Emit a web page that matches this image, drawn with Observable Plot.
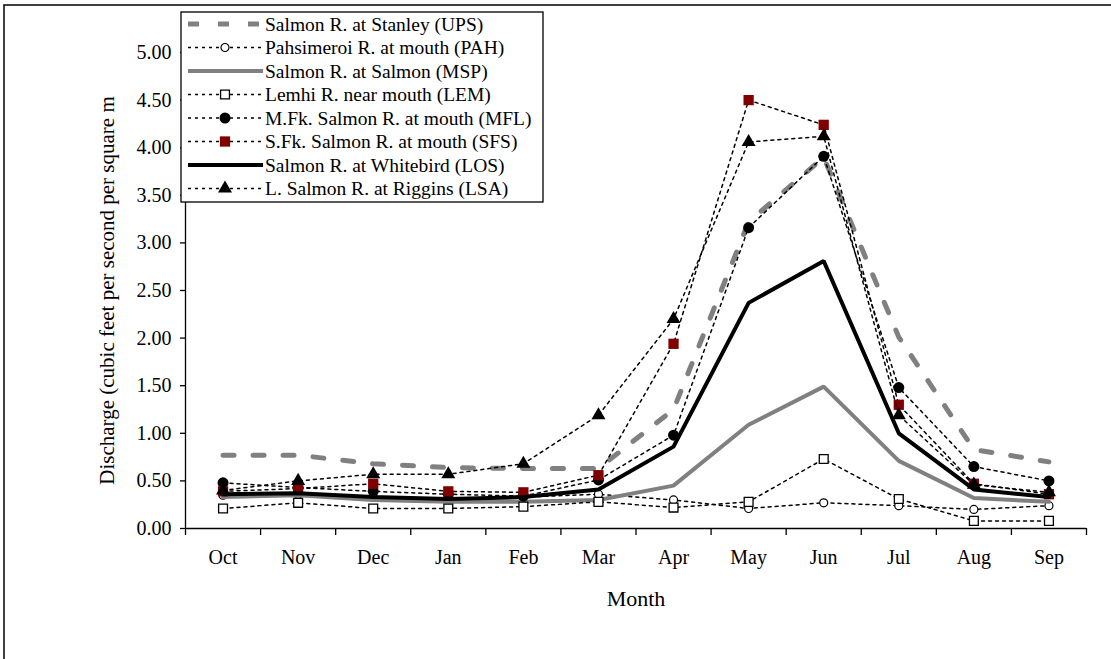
<!DOCTYPE html>
<html>
<head>
<meta charset="utf-8">
<script src="https://cdn.jsdelivr.net/npm/d3@7"></script>
<script src="https://cdn.jsdelivr.net/npm/@observablehq/plot@0.6"></script>
<style>
  body { margin: 0; background: #fff; }
  svg { display: block; }
  svg, svg text { font-family: "Liberation Serif", "Times New Roman", serif !important; }
</style>
</head>
<body>
<div id="chart"></div>
<script>
const months = ["Oct","Nov","Dec","Jan","Feb","Mar","Apr","May","Jun","Jul","Aug","Sep"];
const yTicks = [0, 0.5, 1, 1.5, 2, 2.5, 3, 3.5, 4, 4.5, 5];

const seriesNames = [
  "Salmon R. at Stanley (UPS)",
  "Pahsimeroi R. at mouth (PAH)",
  "Salmon R. at Salmon (MSP)",
  "Lemhi R. near mouth (LEM)",
  "M.Fk. Salmon R. at mouth (MFL)",
  "S.Fk. Salmon R. at mouth (SFS)",
  "Salmon R. at Whitebird (LOS)",
  "L. Salmon R. at Riggins (LSA)"
];
const UPS = [0.77, 0.77, 0.68, 0.64, 0.63, 0.63, 1.25, 3.22, 3.90, 2.01, 0.83, 0.70];
const PAH = [0.35, 0.36, 0.33, 0.32, 0.33, 0.36, 0.30, 0.21, 0.27, 0.24, 0.20, 0.24];
const MSP = [0.33, 0.35, 0.30, 0.28, 0.28, 0.30, 0.45, 1.09, 1.49, 0.71, 0.32, 0.28];
const LEM = [0.21, 0.27, 0.21, 0.21, 0.23, 0.28, 0.22, 0.28, 0.73, 0.31, 0.08, 0.08];
const MFL = [0.48, 0.43, 0.39, 0.36, 0.34, 0.51, 0.98, 3.16, 3.91, 1.48, 0.65, 0.50];
const SFS = [0.39, 0.42, 0.47, 0.39, 0.38, 0.56, 1.94, 4.50, 4.24, 1.30, 0.47, 0.36];
const LOS = [0.36, 0.37, 0.33, 0.31, 0.33, 0.41, 0.86, 2.37, 2.81, 1.00, 0.41, 0.33];
const LSA = [0.40, 0.50, 0.57, 0.57, 0.68, 1.19, 2.20, 4.06, 4.12, 1.19, 0.46, 0.38];

const yTitle = "Discharge (cubic feet per second per square m";
const xTitle = "Month";

const FONT = "'Liberation Serif', 'Times New Roman', serif";
const dotted = {stroke: "black", strokeWidth: 1.5, strokeDasharray: "3,4"};
const styles = [
  {values: UPS, line: {stroke: "#808080", strokeWidth: 5, strokeDasharray: "11,19"}, dot: null},
  {values: PAH, line: dotted, dot: {symbol: "circle", r: 4, fill: "white", stroke: "black", strokeWidth: 1.2}},
  {values: MSP, line: {stroke: "#808080", strokeWidth: 4}, dot: null},
  {values: LEM, line: dotted, dot: {symbol: "square", r: 5, fill: "white", stroke: "black", strokeWidth: 1.3}},
  {values: MFL, line: dotted, dot: {symbol: "circle", r: 5.5, fill: "black", stroke: "none"}},
  {values: SFS, line: dotted, dot: {symbol: "square", r: 5.8, fill: "#800000", stroke: "none"}},
  {values: LOS, line: {stroke: "black", strokeWidth: 4}, dot: null},
  {values: LSA, line: dotted, dot: {symbol: "triangle", r: 5.2, fill: "black", stroke: "none"}}
];

const idx = d3.range(months.length);
const marks = [];
marks.push(Plot.ruleY([0], {stroke: "black", strokeWidth: 1.3}));
marks.push(Plot.ruleX([-0.5], {stroke: "black", strokeWidth: 1.3}));
styles.forEach(s => {
  const data = idx.map(i => ({x: i, y: s.values[i]}));
  marks.push(Plot.line(data, {x: "x", y: "y", ...s.line, strokeLinejoin: "miter"}));
  if (s.dot) marks.push(Plot.dot(data, {x: "x", y: "y", ...s.dot}));
});
marks.push(Plot.axisY({ticks: yTicks, tickSize: 5, tickPadding: 9, tickFormat: d3.format(".2f"), fontSize: 20, label: null, stroke: "black", strokeWidth: 1.3}));
marks.push(Plot.axisX({ticks: idx, tickSize: 0, tickPadding: 21, tickFormat: i => months[i], fontSize: 20, label: null}));
marks.push(Plot.axisX({ticks: d3.range(-0.5, 12, 1), tickSize: 7, tickFormat: () => "", label: null, stroke: "black", strokeWidth: 1.3}));
marks.push(Plot.text([yTitle], {frameAnchor: "left", dx: -78, rotate: -90, fontSize: 21, textAnchor: "middle", lineAnchor: "middle", text: d => d}));
marks.push(Plot.text([xTitle], {frameAnchor: "bottom", dy: 70, fontSize: 22, textAnchor: "middle", lineAnchor: "middle", text: d => d}));

const chart = Plot.plot({
  width: 1111,
  height: 659,
  marginTop: 52,
  marginBottom: 131,
  marginLeft: 185,
  marginRight: 25,
  style: {fontFamily: FONT, color: "black", background: "white"},
  x: {type: "linear", domain: [-0.5, 11.5]},
  y: {domain: [0, 5]},
  marks
});
document.getElementById("chart").appendChild(chart);

// frame & legend
const svg = d3.select(chart);
svg.append("rect").attr("x", 4).attr("y", 5).attr("width", 1300).attr("height", 1000)
  .attr("fill", "none").attr("stroke", "black").attr("stroke-width", 1.5);

const lg = svg.append("g").attr("font-size", 19.5).attr("text-anchor", "start");
const lx = 181, ly = 12, lw = 362, lh = 190;
lg.append("rect").attr("x", lx).attr("y", ly).attr("width", lw).attr("height", lh)
  .attr("fill", "white").attr("stroke", "black").attr("stroke-width", 1.3);
const symGen = {circle: d3.symbolCircle, square: d3.symbolSquare, triangle: d3.symbolTriangle};
styles.forEach((s, i) => {
  const cy = ly + 12 + i * 23.5;
  lg.append("line").attr("x1", lx + 7).attr("x2", lx + 82).attr("y1", cy).attr("y2", cy)
    .attr("stroke", s.line.stroke).attr("stroke-width", s.line.strokeWidth)
    .attr("stroke-dasharray", s.line.strokeDasharray || null);
  if (s.dot) {
    const size = Math.PI * s.dot.r * s.dot.r;
    lg.append("path").attr("d", d3.symbol(symGen[s.dot.symbol], size)())
      .attr("transform", `translate(${lx + 44},${cy})`)
      .attr("fill", s.dot.fill).attr("stroke", s.dot.stroke === "none" ? null : s.dot.stroke)
      .attr("stroke-width", s.dot.strokeWidth || null);
  }
  lg.append("text").attr("x", lx + 84).attr("y", cy).attr("dy", "0.35em")
    .attr("text-anchor", "start").text(seriesNames[i]);
});
</script>
</body>
</html>
